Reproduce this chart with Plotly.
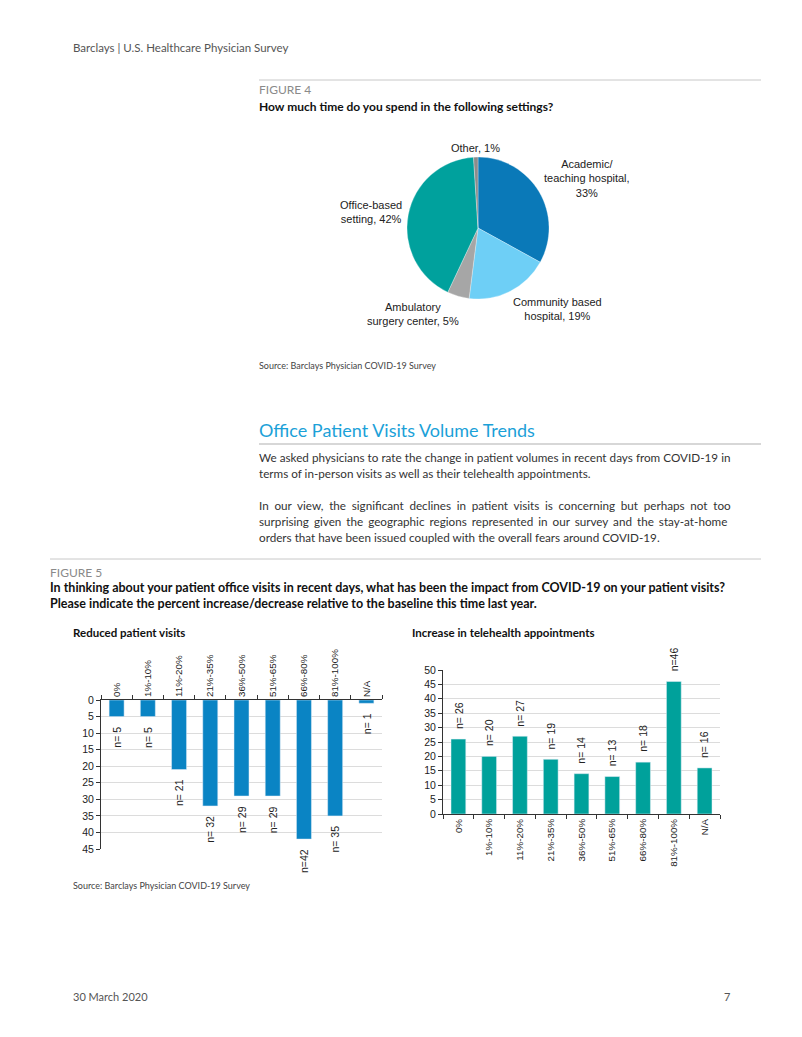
import plotly.graph_objects as go

W, H = 802, 1037

# ---- data ----
pie_labels = ["Academic/<br>teaching hospital,<br>33%", "Community based<br>hospital, 19%",
              "Ambulatory<br>surgery center, 5%", "Office-based<br>setting, 42%", "Other, 1%"]
pie_values = [33, 19, 5, 42, 1]
pie_colors = ["#0A79B8", "#6ECFF6", "#A6A6A6", "#00A19D", "#8C8C8C"]

categories = ["0%", "1%-10%", "11%-20%", "21%-35%", "36%-50%", "51%-65%", "66%-80%", "81%-100%", "N/A"]
reduced_visits = [5, 5, 21, 32, 29, 29, 42, 35, 1]
reduced_labels = ["n= 5", "n= 5", "n= 21", "n= 32", "n= 29", "n= 29", "n=42", "n= 35", "n= 1"]
telehealth = [26, 20, 27, 19, 14, 13, 18, 46, 16]
telehealth_labels = ["n= 26", "n= 20", "n= 27", "n= 19", "n= 14", "n= 13", "n= 18", "n=46", "n= 16"]
left_ticks = [0, 5, 10, 15, 20, 25, 30, 35, 40, 45]
right_ticks = [0, 5, 10, 15, 20, 25, 30, 35, 40, 45, 50]

# page-pixel -> paper helpers (vertical calibrated to the photographed page)
TOP, SPAN = 5, 1025


def px(x):
    return x / W


def py(y):
    return 1 - (y - TOP) / SPAN


BODY = "Lato"
CHART = "Liberation Sans"

fig = go.Figure()

fig.add_trace(go.Pie(
    labels=pie_labels, values=pie_values, sort=False, direction="clockwise",
    marker=dict(colors=pie_colors, line=dict(color="white", width=0.3)),
    textinfo="none", hoverinfo="label+percent", showlegend=False,
    domain=dict(x=[px(406), px(550)], y=[py(298), py(156)]),
))

fig.add_trace(go.Bar(
    x=categories, y=reduced_visits, marker_color="#0A84C4", width=0.48,
    xaxis="x", yaxis="y", showlegend=False,
))
fig.add_trace(go.Bar(
    x=categories, y=telehealth, marker_color="#00A19B", width=0.48,
    xaxis="x2", yaxis="y2", showlegend=False,
))

ann = []


def text(x, y, s, size=12, color="#333", family=BODY, xanchor="left", yanchor="middle", align="left"):
    xs = x - 2 if xanchor == "left" else x
    ann.append(dict(x=px(xs), y=py(y), xref="paper", yref="paper", text=s, showarrow=False,
                    xanchor=xanchor, yanchor=yanchor, align=align,
                    font=dict(size=size, color=color, family=family)))


text(73, 46, "Barclays | U.S. Healthcare Physician Survey", 11.5, "#555")
text(259, 89, "FIGURE 4", 12, "#8a8a8a")
text(259, 106, "<b>How much time do you spend in the following settings?</b>", 12, "#111")

# pie labels
pie_label_pos = [(587, 177, "center"), (557, 308, "center"), (413, 313, "center"), (371, 211, "center"), (475, 147, "center")]
for lab, (x, y, al) in zip(pie_labels, pie_label_pos):
    text(x, y, lab, 11, "#222", CHART, xanchor="center", align=al)

text(259, 364, "Source: Barclays Physician COVID-19 Survey", 9, "#444")
text(259, 429, "Office Patient Visits Volume Trends", 18, "#1BA1D8")

para = [
    (456, "We asked physicians to rate the change in patient volumes in recent days from COVID-19 in", 0.1),
    (472, "terms of in-person visits as well as their telehealth appointments.", 0),
    (504, "In our view, the significant declines in patient visits is concerning but perhaps not too", 2.7),
    (520, "surprising given the geographic regions represented in our survey and the stay-at-home", 2.0),
    (536, "orders that have been issued coupled with the overall fears around COVID-19.", 0),
]
for y, s, ws in para:
    text(259, y, f'<span style="word-spacing:{ws}px">{s}</span>', 11.7, "#333")

text(50, 571, "FIGURE 5", 12, "#8a8a8a")
text(50, 586, "<b>In thinking about your patient office visits in recent days, what has been the impact from COVID-19 on your patient visits?</b>", 12.5, "#111")
text(50, 602, "<b>Please indicate the percent increase/decrease relative to the baseline this time last year.</b>", 12.5, "#111")
text(73, 631, "<b>Reduced patient visits</b>", 11.5, "#111")
text(412, 631, "<b>Increase in telehealth appointments</b>", 11.5, "#111")

text(73, 884, "Source: Barclays Physician COVID-19 Survey", 9, "#444")
text(73, 995, "30 March 2020", 11, "#555")
text(727, 995, "7", 11, "#555", xanchor="center")

# bar value labels
for c, v, s in zip(categories, reduced_visits, reduced_labels):
    ann.append(dict(x=c, y=v, xref="x", yref="y", text=s, showarrow=False, textangle=-90,
                    xanchor="center", yanchor="top", yshift=-8,
                    font=dict(size=10.5, color="#222", family=CHART)))
for c, v, s in zip(categories, telehealth, telehealth_labels):
    ann.append(dict(x=c, y=v, xref="x2", yref="y2", text=s, showarrow=False, textangle=-90,
                    xanchor="center", yanchor="bottom", yshift=8,
                    font=dict(size=10.5, color="#222", family=CHART)))

shapes = [
    dict(type="line", xref="paper", yref="paper", x0=px(259), x1=px(761), y0=py(79), y1=py(79),
         line=dict(color="#C8C8C8", width=1)),
    dict(type="line", xref="paper", yref="paper", x0=px(259), x1=px(761), y0=py(443), y1=py(443),
         line=dict(color="#B0B0B0", width=1.2)),
    dict(type="line", xref="paper", yref="paper", x0=px(50), x1=px(761), y0=py(558), y1=py(558),
         line=dict(color="#C8C8C8", width=1)),
]

tickfont = dict(size=10.5, color="#222", family=CHART)
cattickfont = dict(size=9.8, color="#222", family=CHART)
fig.update_layout(
    width=W, height=H, margin=dict(l=0, r=0, t=0, b=0),
    paper_bgcolor="white", plot_bgcolor="white", bargap=0.5,
    annotations=ann, shapes=shapes,
    xaxis=dict(domain=[px(101), px(382)], side="top", type="category", tickangle=-90,
               showline=True, linecolor="#333", linewidth=1, ticks="outside", tickson="boundaries",
               ticklen=4, tickcolor="#333", tickfont=cattickfont, showgrid=False, anchor="y", fixedrange=True),
    yaxis=dict(domain=[py(848), py(699)], range=[45, 0], tickvals=left_ticks, showline=True,
               linecolor="#333", linewidth=1, ticks="outside", ticklen=4, tickcolor="#333",
               tickfont=tickfont, showgrid=True, gridcolor="#DCDCDC", gridwidth=1, zeroline=False,
               anchor="x", fixedrange=True),
    xaxis2=dict(domain=[px(443), px(720)], side="bottom", type="category", tickangle=-90,
                showline=True, linecolor="#333", linewidth=1, ticks="outside", tickson="boundaries",
                ticklen=4, tickcolor="#333", tickfont=cattickfont, showgrid=False, anchor="y2", fixedrange=True),
    yaxis2=dict(domain=[py(813), py(669)], range=[0, 50], tickvals=right_ticks, showline=True,
                linecolor="#333", linewidth=1, ticks="outside", ticklen=4, tickcolor="#333",
                tickfont=tickfont, showgrid=True, gridcolor="#DCDCDC", gridwidth=1, zeroline=False,
                anchor="x2", fixedrange=True),
)

post = "document.body.style.margin='0';"
fig.write_html("out.html", config={"displayModeBar": False}, post_script=post)
